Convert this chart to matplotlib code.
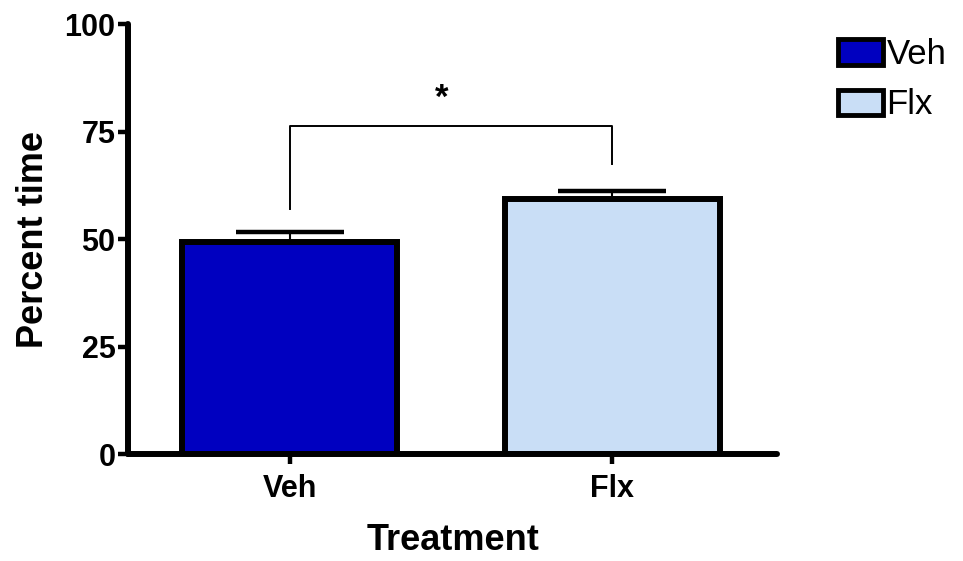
import matplotlib
matplotlib.use("Agg")
import matplotlib.pyplot as plt
from matplotlib.patches import Patch

plt.rcParams["font.family"] = ["Liberation Sans", "DejaVu Sans"]

groups = ["Veh", "Flx"]
means = [49.3, 59.4]
sems = [2.3, 1.8]
colors = ["#0000C0", "#C9DEF6"]

y_ticks = [0, 25, 50, 75, 100]
bracket_y = 76.3
bracket_ends = [57.0, 67.4]
sig_label = "*"

fig = plt.figure(figsize=(9.63, 5.61), dpi=100)
ax = fig.add_axes([0.133, 0.19, 0.674, 0.767])

x = [1, 2]
ax.bar(x, means, width=0.665, color=colors, edgecolor="black", linewidth=4.3, zorder=2)
ax.errorbar(x, means, yerr=[[0, 0], sems], fmt="none", ecolor="black",
            elinewidth=1.5, capsize=39, capthick=3.2, zorder=1)

# significance bracket
ax.plot([x[0], x[0], x[1], x[1]],
        [bracket_ends[0], bracket_y, bracket_y, bracket_ends[1]],
        color="black", lw=1.4, zorder=3)
ax.text(1.47, bracket_y + 2.5, sig_label, ha="center", va="bottom",
        fontsize=25, fontweight="bold")

ax.set_xlim(0.5, 2.51)
ax.set_ylim(0, 100)
ax.set_yticks(y_ticks)
ax.set_xticks(x)
ax.set_xticklabels(groups)

for s in ["top", "right"]:
    ax.spines[s].set_visible(False)
for s in ["left", "bottom"]:
    ax.spines[s].set_linewidth(4.3)
    ax.spines[s].set_capstyle("round")

ax.tick_params(axis="both", width=3.2, length=7, labelsize=22, pad=2)
ax.tick_params(axis="x", pad=7)
for lbl in ax.get_xticklabels() + ax.get_yticklabels():
    lbl.set_fontweight("bold")

ax.set_ylabel("Percent time", fontsize=26, fontweight="bold", labelpad=10)
ax.set_xlabel("Treatment", fontsize=26, fontweight="bold", labelpad=14)

handles = [Patch(facecolor=c, edgecolor="black", linewidth=3.5, label=g)
           for g, c in zip(groups, colors)]
fig.legend(handles=handles, loc="upper left", bbox_to_anchor=(0.852, 0.963),
           frameon=False, fontsize=25, handlelength=1.3, handleheight=0.75,
           handletextpad=0.1, labelspacing=0.5, borderpad=0)

fig.savefig("out.png", dpi=100)
